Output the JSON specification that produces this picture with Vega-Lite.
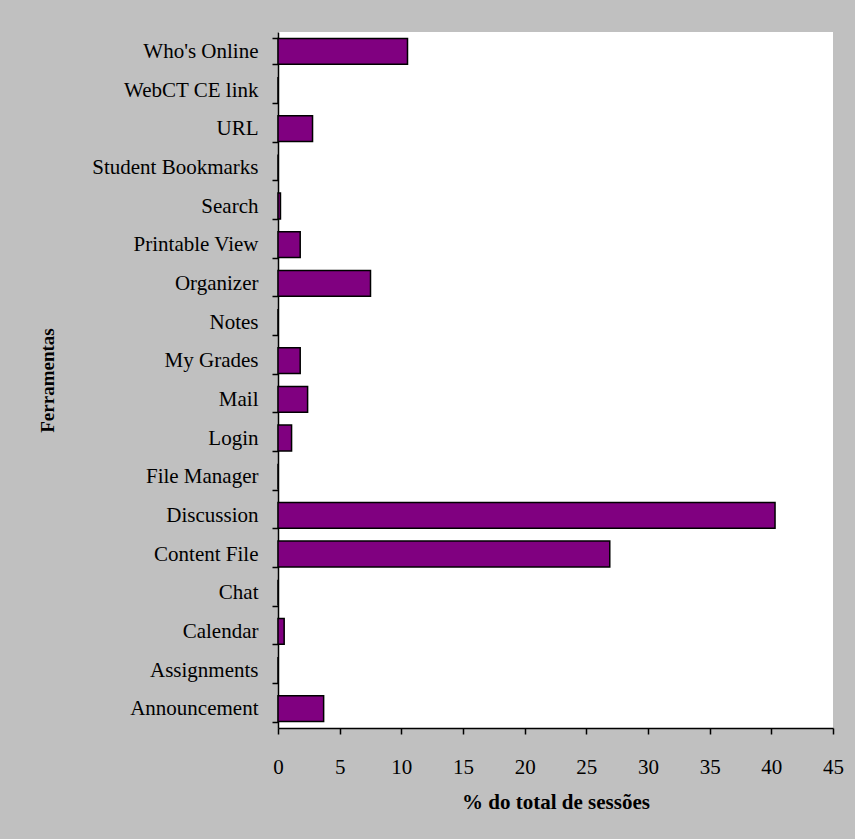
{
  "$schema": "https://vega.github.io/schema/vega-lite/v6.json",
  "autosize": {"type": "none"},
  "width": 555,
  "height": 696,
  "padding": {"left": 278, "top": 32, "right": 22, "bottom": 111},
  "background": "#C0C0C0",
  "data": {"values": [
    {"tool": "Who's Online", "pct": 10.5},
    {"tool": "WebCT CE link", "pct": 0},
    {"tool": "URL", "pct": 2.8},
    {"tool": "Student Bookmarks", "pct": 0},
    {"tool": "Search", "pct": 0.2},
    {"tool": "Printable View", "pct": 1.8},
    {"tool": "Organizer", "pct": 7.5},
    {"tool": "Notes", "pct": 0},
    {"tool": "My Grades", "pct": 1.8},
    {"tool": "Mail", "pct": 2.4},
    {"tool": "Login", "pct": 1.1},
    {"tool": "File Manager", "pct": 0},
    {"tool": "Discussion", "pct": 40.3},
    {"tool": "Content File", "pct": 26.9},
    {"tool": "Chat", "pct": 0},
    {"tool": "Calendar", "pct": 0.5},
    {"tool": "Assignments", "pct": 0},
    {"tool": "Announcement", "pct": 3.7}
  ]},
  "mark": {"type": "bar", "fill": "#800080", "stroke": "#000000", "strokeWidth": 1.5},
  "encoding": {
    "y": {
      "field": "tool", "type": "nominal", "sort": null,
      "scale": {"paddingInner": 0.33, "paddingOuter": 0.165},
      "axis": {
        "title": "Ferramentas",
        "titleFont": "Liberation Serif", "titleFontSize": 19, "titleFontWeight": "bold", "titleColor": "#000",
        "titlePadding": 34,
        "labelFont": "Liberation Serif", "labelFontSize": 21, "labelColor": "#000",
        "labelPadding": 14,
        "tickBand": "extent", "tickSize": 6, "tickColor": "#000", "tickWidth": 1.5,
        "domainColor": "#000", "domainWidth": 1.5
      }
    },
    "x": {
      "field": "pct", "type": "quantitative",
      "scale": {"domain": [0, 45], "nice": false},
      "axis": {
        "title": "%  do total de sessões",
        "values": [0, 5, 10, 15, 20, 25, 30, 35, 40, 45],
        "grid": false,
        "titleFont": "Liberation Serif", "titleFontSize": 21, "titleFontWeight": "bold", "titleColor": "#000",
        "titlePadding": 14,
        "labelFont": "Liberation Serif", "labelFontSize": 21, "labelColor": "#000",
        "labelPadding": 22, "labelFlush": false,
        "tickSize": 6, "tickColor": "#000", "tickWidth": 1.5,
        "domainColor": "#000", "domainWidth": 1.5
      }
    }
  },
  "config": {
    "view": {"fill": "#FFFFFF", "stroke": null}
  }
}
